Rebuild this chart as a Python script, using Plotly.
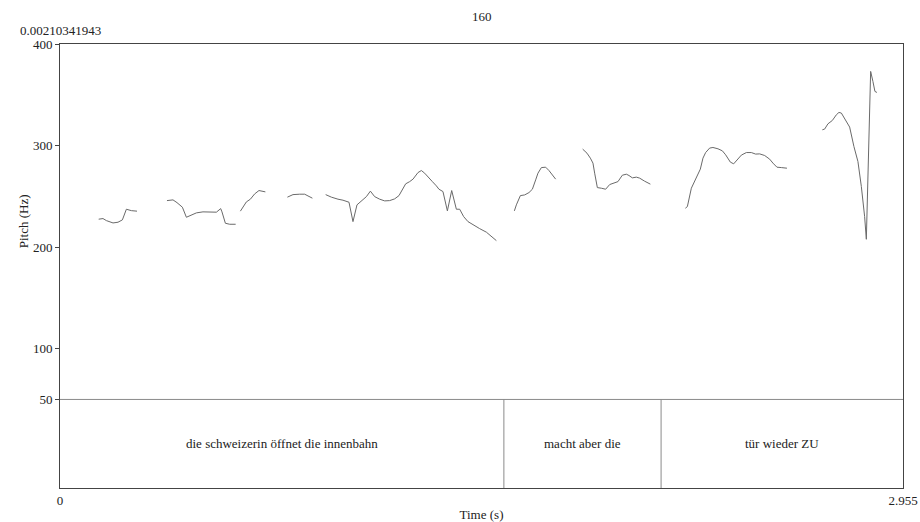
import plotly.graph_objects as go

# Pitch contour (time in s, F0 in Hz), one list per voiced stretch
seg_times = [
    [0.1356, 0.1507, 0.1626, 0.1858, 0.2033, 0.2187, 0.2327, 0.2503, 0.2699],
    [0.3750, 0.3961, 0.4101, 0.4290, 0.4430, 0.4606, 0.4781, 0.5012, 0.5247,
     0.5482, 0.5633, 0.5678, 0.5797, 0.5948, 0.6158],
    [0.6323, 0.6414, 0.6533, 0.6674, 0.6824, 0.6975, 0.7199],
    [0.7971, 0.8167, 0.8402, 0.8577, 0.8693, 0.8847],
    [0.9313, 0.9513, 0.9744, 0.9919, 1.0130, 1.0270, 1.0410, 1.0620, 1.0740,
     1.0880, 1.1030, 1.1206, 1.1381, 1.1556, 1.1731, 1.1882, 1.2022, 1.2117,
     1.2257, 1.2373, 1.2548, 1.2667, 1.2783, 1.2899, 1.3053, 1.3193, 1.3284,
     1.3424, 1.3579, 1.3730, 1.3894, 1.4010, 1.4150, 1.4301, 1.4476, 1.4711,
     1.4946, 1.5121, 1.5296],
    [1.5927, 1.5997, 1.6137, 1.6288, 1.6439, 1.6558, 1.6674, 1.6754, 1.6874,
     1.7024, 1.7140, 1.7259, 1.7375],
    [1.8321, 1.8472, 1.8591, 1.8682, 1.8742, 1.8836, 1.8977, 1.9127, 1.9268,
     1.9443, 1.9558, 1.9712, 1.9853, 1.9944, 2.0063, 2.0203, 2.0319, 2.0494,
     2.0694],
    [2.1921, 2.1991, 2.2131, 2.2306, 2.2446, 2.2538, 2.2632, 2.2772, 2.2888,
     2.3064, 2.3218, 2.3333, 2.3414, 2.3498, 2.3614, 2.3729, 2.3884, 2.4059,
     2.4234, 2.4385, 2.4525, 2.4701, 2.4876, 2.4991, 2.5131, 2.5286, 2.5482],
    [2.6723, 2.6803, 2.6919, 2.7073, 2.7214, 2.7304, 2.7389, 2.7529, 2.7680,
     2.7830, 2.7970, 2.8090, 2.8205, 2.8265, 2.8416, 2.8496, 2.8566, 2.8636],
]
seg_pitch = [
    [227.5, 228.1, 226.1, 223.8, 224.5, 226.8, 237.3, 235.9, 235.4],
    [245.8, 246.5, 243.8, 239.3, 229.4, 231.4, 233.7, 234.7, 234.7,
     234.4, 237.9, 234.7, 223.5, 222.5, 222.5],
    [235.4, 239.3, 244.5, 247.2, 252.4, 255.7, 254.4],
    [249.2, 251.7, 252.1, 252.1, 250.4, 248.2],
    [251.7, 249.2, 247.2, 246.2, 244.2, 225.1, 241.6, 246.5, 249.7,
     255.1, 249.7, 247.2, 245.5, 245.8, 247.5, 250.7, 257.0, 262.3,
     264.5, 266.9, 273.4, 275.4, 272.8, 268.9, 264.5, 260.3, 257.0,
     254.7, 235.7, 255.7, 237.3, 237.3, 230.0, 225.1, 221.8, 218.2,
     214.7, 211.0, 206.4],
    [235.7, 241.6, 250.7, 251.4, 253.7, 257.0, 266.2, 272.8, 278.3,
     278.7, 275.4, 271.1, 266.9],
    [296.5, 292.5, 287.6, 282.7, 272.8, 258.6, 258.0, 257.0, 261.6,
     263.0, 264.5, 270.8, 271.8, 270.5, 268.2, 268.9, 267.9, 264.9,
     262.0],
    [238.3, 239.9, 258.0, 267.9, 276.8, 287.6, 293.1, 297.5, 298.1,
     296.8, 294.8, 290.9, 286.6, 283.7, 282.0, 285.9, 290.6, 293.1,
     293.1, 291.6, 291.8, 290.2, 286.6, 282.7, 278.7, 278.3, 277.7],
    [315.5, 316.2, 321.4, 324.7, 330.3, 332.6, 332.0, 325.4, 318.2,
     299.0, 284.3, 259.6, 230.0, 207.7, 373.0, 363.1, 353.3, 352.3],
]

# Text tier: interval boundaries and labels
tier_bounds = [0.0, 1.556, 2.107, 2.955]
tier_labels = ["die schweizerin öffnet die innenbahn", "macht aber die", "tür wieder ZU"]

y_ticks = [50, 100, 200, 300, 400]
x_ticks = [0, 2.955]
x_tick_text = ["0", "2.955"]
t_end = 2.955
f_top = 400
f_floor = 50
y_bottom = -37.2
title_text = "160"
corner_text = "0.00210341943"

FONT = "Times New Roman, Liberation Serif, serif"
TXT = "#222222"
AXIS = "#444444"
CURVE = "#6a6a6a"
SEP = "#8a8a8a"

fig = go.Figure()

# Pitch contour: segments joined with gaps for unvoiced parts
xs, ys = [], []
for ts, fs in zip(seg_times, seg_pitch):
    xs.extend(ts + [None])
    ys.extend(fs + [None])
fig.add_trace(go.Scatter(x=xs, y=ys, mode="lines",
                         line=dict(color=CURVE, width=1),
                         connectgaps=False, hoverinfo="skip",
                         showlegend=False))

# separator between pitch pane and tier, then interval boundaries
shapes = [dict(type="line", xref="x", yref="y", x0=0, x1=t_end,
               y0=f_floor, y1=f_floor, line=dict(color=SEP, width=1))]
for b in tier_bounds[1:-1]:
    shapes.append(dict(type="line", xref="x", yref="y", x0=b, x1=b,
                       y0=y_bottom, y1=f_floor, line=dict(color=SEP, width=1)))

annotations = []
for i, lab in enumerate(tier_labels):
    annotations.append(dict(x=(tier_bounds[i] + tier_bounds[i + 1]) / 2,
                            y=(f_floor + y_bottom) / 2, xref="x", yref="y",
                            text=lab, showarrow=False,
                            font=dict(family=FONT, size=13, color=TXT)))
annotations += [
    dict(x=0.5, y=1, xref="paper", yref="paper", yanchor="middle", yshift=28,
         text=title_text, showarrow=False,
         font=dict(family=FONT, size=13, color=TXT)),
    dict(x=0, y=f_top, xref="x", yref="y", yshift=14, text=corner_text,
         showarrow=False, font=dict(family=FONT, size=13, color=TXT)),
    dict(x=0, y=(f_top + f_floor) / 2, xref="paper", yref="y", xshift=-46,
         text="Pitch (Hz)", textangle=-90, showarrow=False,
         font=dict(family=FONT, size=13, color=TXT)),
]

fig.update_layout(
    width=920, height=522,
    margin=dict(l=60, r=17, t=44, b=34),
    paper_bgcolor="white", plot_bgcolor="white",
    font=dict(family=FONT, size=13, color=TXT),
    shapes=shapes, annotations=annotations,
    xaxis=dict(range=[0, t_end], tickvals=x_ticks, ticktext=x_tick_text,
               automargin=False, showgrid=False, zeroline=False,
               showline=True, mirror=True, linecolor=AXIS, linewidth=1,
               ticks="", tickfont=dict(family=FONT, size=13, color=TXT),
               title=dict(text="Time (s)", standoff=4,
                          font=dict(family=FONT, size=13, color=TXT))),
    yaxis=dict(range=[y_bottom, f_top], tickvals=y_ticks,
               automargin=False, showgrid=False, zeroline=False,
               showline=True, mirror=True, linecolor=AXIS, linewidth=1,
               ticks="outside", ticklen=4, tickcolor=AXIS,
               tickfont=dict(family=FONT, size=13, color=TXT)),
)

fig.write_html("out.html")
